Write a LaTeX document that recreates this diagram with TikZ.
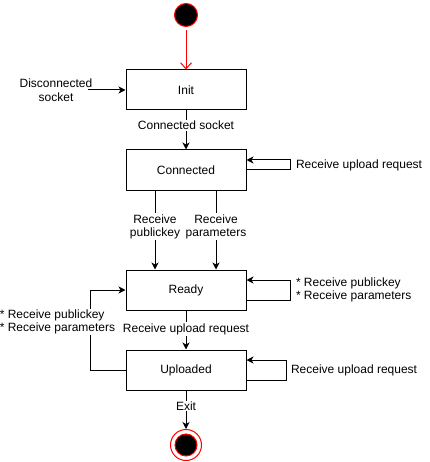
\documentclass[tikz,border=0pt]{standalone}
\usepackage{fontspec}
\setmainfont{Liberation Sans}
\usetikzlibrary{positioning,arrows.meta}

\begin{document}
\begin{tikzpicture}[
  x=1pt, y=-1pt,
  font=\fontsize{12}{13.5}\selectfont, >={Stealth[length=7pt,width=7pt,inset=2pt]},
  state/.style={draw, line width=1pt, minimum width=120pt, minimum height=40pt,
                inner sep=0pt, align=center},
  startstate/.style={circle, draw=red, fill=black, line width=1pt,
                     minimum size=23pt, inner sep=0pt},
  endstate/.style={circle, draw=red, fill=white, line width=1pt,
                   minimum size=31pt, inner sep=0pt,
                   path picture={\filldraw[fill=black, draw=red, line width=1pt]
                     (path picture bounding box.center) circle (11pt);}},
  arr/.style={->, line width=1pt},
  lbl/.style={fill=white, inner sep=1pt, align=center},
  side/.style={anchor=west, inner sep=1pt, align=left},
]
\useasboundingbox (0,0) rectangle (429,462);

\node[startstate] (start) at (186,15) {};
\node[state] (init)  at (186,90)  {Init};
\node[state] (conn)  at (186,170) {Connected};
\node[state] (ready) at (186,290) {Ready};
\node[state] (upl)   at (186,370) {Uploaded};
\node[endstate] (stop) at (186,445) {};

\node[lbl, fill=none] (disc) at (56,90) {Disconnected\\socket};

\draw[line width=1pt, red, -{Straight Barb[length=6pt,width=11pt]}, shorten <=3pt]
  (start) -- (init);
\draw[arr] ([xshift=-6pt]disc.east) -- (init.west);
\draw[arr] (init) -- node[lbl, pos=0.375] {Connected socket} (conn);

% self loops on the right
\draw[arr] (conn.east) -- ++(44,0) |- node[side, pos=0.25, xshift=4pt] {Receive upload request}
  ([yshift=10pt]conn.east);
\draw[arr] ([yshift=-10pt]ready.east) -- ++(44,0) |- node[side, pos=0.25, xshift=4pt]
  {* Receive publickey\\* Receive parameters} ([yshift=10pt]ready.east);
\draw[arr] ([yshift=-10pt]upl.east) -- ++(40,0) |- node[side, pos=0.25, xshift=3pt]
  {Receive upload request} ([yshift=10pt]upl.east);

% connected -> ready
\draw[arr] ([xshift=-31pt]conn.south) -- node[lbl, pos=0.46] {Receive\\publickey}
  ([xshift=-31pt]ready.north);
\draw[arr] ([xshift=30pt]conn.south) -- node[lbl, pos=0.46] {Receive\\parameters}
  ([xshift=30pt]ready.north);

\draw[arr] (ready) -- node[lbl, pos=0.475] {Receive upload request} (upl);

% back from uploaded to ready
\draw[arr] (upl.west) -- ++(-35,0) |- node[lbl, align=left, pos=0.3, xshift=-33pt]
  {* Receive publickey\\* Receive parameters} (ready.west);

\draw[arr] (upl) -- node[lbl, pos=0.4] {Exit} (stop);
\end{tikzpicture}
\end{document}
